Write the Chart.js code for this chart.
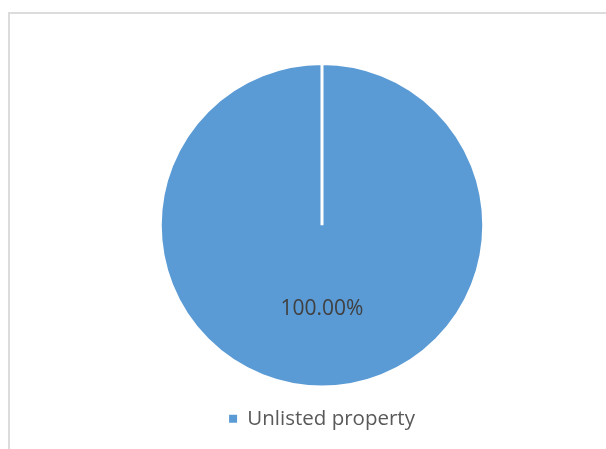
<!DOCTYPE html>
<html>
<head>
<meta charset="utf-8">
<script src="https://cdn.jsdelivr.net/npm/chart.js@4"></script>
<style>
  html, body { margin: 0; padding: 0; background: #fff; }
  .wrap { position: relative; width: 606px; height: 449px; overflow: hidden; }
  .frame {
    position: absolute; left: 8px; top: 12px; width: 700px; height: 500px;
    border-left: 2px solid #dcdcdc; border-top: 2px solid #dcdcdc;
  }
  canvas { position: absolute; left: 0; top: 0; }
</style>
</head>
<body>
<div class="wrap">
  <div class="frame"></div>
  <canvas id="pie-chart" width="606" height="449"></canvas>
</div>
<script>
const categories = ["Unlisted property"];
const shares = [100];
const sliceColors = ["#5b9bd5"];

// draws the percentage inside each slice
const sliceLabels = {
  id: "sliceLabels",
  afterDatasetsDraw(chart) {
    const c = chart.ctx;
    const meta = chart.getDatasetMeta(0);
    const total = shares.reduce((a, b) => a + b, 0);
    c.save();
    c.font = "21px 'Open Sans', 'Noto Sans', sans-serif";
    c.fillStyle = "#404040";
    c.textAlign = "center";
    c.textBaseline = "middle";
    meta.data.forEach((arc, i) => {
      const pct = ((shares[i] / total) * 100).toFixed(2) + "%";
      let x, y;
      if (shares[i] === total) {
        x = arc.x;
        y = arc.y + arc.outerRadius * 0.52;
      } else {
        const p = arc.tooltipPosition();
        x = p.x;
        y = p.y;
      }
      c.fillText(pct, x, y);
    });
    c.restore();
  },
};

const ctx = document.getElementById("pie-chart");

new Chart(ctx, {
  type: "pie",
  data: {
    labels: categories,
    datasets: [
      {
        data: shares,
        backgroundColor: sliceColors,
        borderColor: "#ffffff",
        borderWidth: 3,
      },
    ],
  },
  options: {
    responsive: false,
    animation: false,
    layout: {
      padding: { top: 62, left: 38, right: 0, bottom: 10 },
    },
    plugins: {
      legend: {
        position: "bottom",
        labels: {
          boxWidth: 8,
          boxHeight: 8,
          padding: 20,
          color: "#595959",
          font: { size: 20.5, family: "'Open Sans', 'Noto Sans', sans-serif" },
          // no white border on the legend square
          generateLabels() {
            return categories.map((name, i) => ({
              text: name,
              fillStyle: sliceColors[i],
              strokeStyle: sliceColors[i],
              fontColor: "#595959",
              lineWidth: 0,
              hidden: false,
              index: i,
            }));
          },
        },
      },
      tooltip: { enabled: false },
    },
  },
  plugins: [sliceLabels],
});
</script>
</body>
</html>
